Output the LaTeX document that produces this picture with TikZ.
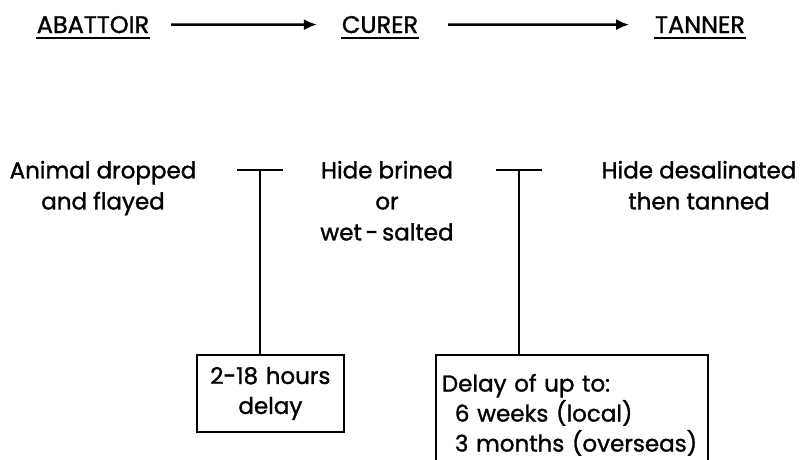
\documentclass[tikz,border=0pt]{standalone}
\usepackage{fontspec}
\setmainfont{Poppins}[FakeBold=1.3]
\usetikzlibrary{positioning,arrows.meta}

\begin{document}
\begin{tikzpicture}[x=1pt, y=-1pt, >={Latex[length=13pt,width=11pt]}, line width=1.8pt,
  heading/.style={inner xsep=0pt, inner ysep=4pt, anchor=base, font=\fontsize{24}{28}\selectfont},
  stage/.style={align=center, inner sep=0pt, anchor=north, font=\fontsize{23}{31}\selectfont},
  delaybox/.style={draw, anchor=north west, inner xsep=6pt, inner ysep=12pt, font=\fontsize{23}{30}\selectfont}]
  \useasboundingbox (0,0) rectangle (803,459);
  % who handles the hide
  \node[heading] (abattoir) at (93,33)  {ABATTOIR};
  \node[heading] (curer)    at (380,33) {CURER};
  \node[heading] (tanner)   at (700,33) {TANNER};
  \foreach \n in {abattoir,curer,tanner}
    \draw[line width=2.2pt] (\n.south west) -- (\n.south east);
  \draw[->, line width=2.4pt, shorten <=21pt, shorten >=24pt] (abattoir) -- (curer);
  \draw[->, line width=2.4pt, shorten <=29pt, shorten >=25pt] (curer) -- (tanner);

  % what happens there
  \node[stage] (animal) at (103,160) {Animal dropped\\and flayed};
  \node[stage] (brined) at (387,160) {Hide brined\\or\\wet\,-\,salted};
  \node[stage] (desal)  at (699,160) {Hide desalinated\\then tanned};

  % delays in between
  \coordinate (t1) at (260,170);
  \coordinate (t2) at (519,170);
  \node[delaybox, text width=135pt, align=center, minimum height=74pt] (delay1) at (196,354)
    {2-18 hours\\delay};
  \node[delaybox, text width=260pt, align=left, minimum height=120pt] (delay2) at (435,354)
    {Delay of up to:\\\hspace*{13pt}6 weeks (local)\\\hspace*{13pt}\mbox{3 months (overseas)}};
  \foreach \t/\b in {t1/delay1, t2/delay2} {
    \draw[line width=2.6pt] ([xshift=-23pt]\t) -- ([xshift=23pt]\t);
    \draw (\t) -- (\t |- \b.north);
  }
\end{tikzpicture}
\end{document}
